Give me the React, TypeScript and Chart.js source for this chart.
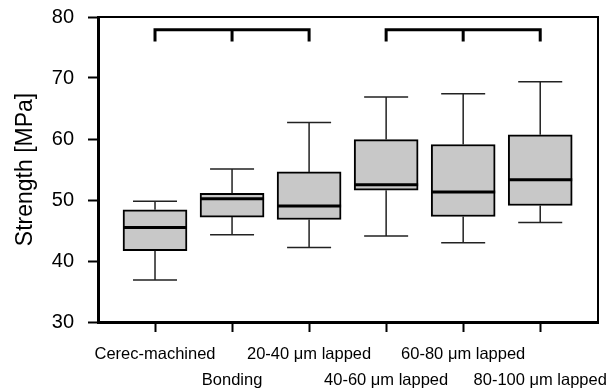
import React, { useEffect, useRef } from "react";
import { Chart, registerables } from "chart.js";

Chart.register(...registerables);

const categories = [
  "Cerec-machined",
  "Bonding",
  "20-40 μm lapped",
  "40-60 μm lapped",
  "60-80 μm lapped",
  "80-100 μm lapped",
];
const whiskerLow = [36.9, 44.3, 42.2, 44.1, 43.0, 46.3];
const q1 = [41.7, 47.2, 46.8, 51.6, 47.3, 49.1];
const median = [45.5, 50.2, 49.0, 52.5, 51.3, 53.3];
const q3 = [48.4, 51.1, 54.6, 59.9, 59.1, 60.7];
const whiskerHigh = [49.8, 55.1, 62.7, 66.9, 67.4, 69.4];

const bracketStart = [1, 4];
const bracketMid = [2, 5];
const bracketEnd = [3, 6];
const bracketTop = 77.9;
const bracketLeg = 76.0;

const yTicks = [30, 40, 50, 60, 70, 80];
const FONT = "'Liberation Sans', Arial, Helvetica, sans-serif";

const boxPlugin = {
  id: "boxExtras",
  afterDatasetsDraw(chart: any) {
    const ctx = chart.ctx;
    const xs = chart.scales.x;
    const ys = chart.scales.y;
    const meta = chart.getDatasetMeta(0);
    const capHalf = 22;
    ctx.save();
    categories.forEach((_, i) => {
      const x = xs.getPixelForValue(i + 1);
      const bar = meta.data[i];
      const half = bar ? bar.width / 2 : 32;
      ctx.strokeStyle = "#222";
      ctx.lineWidth = 1.5;
      ctx.beginPath();
      ctx.moveTo(x, ys.getPixelForValue(q3[i]));
      ctx.lineTo(x, ys.getPixelForValue(whiskerHigh[i]));
      ctx.moveTo(x, ys.getPixelForValue(q1[i]));
      ctx.lineTo(x, ys.getPixelForValue(whiskerLow[i]));
      ctx.moveTo(x - capHalf, ys.getPixelForValue(whiskerHigh[i]));
      ctx.lineTo(x + capHalf, ys.getPixelForValue(whiskerHigh[i]));
      ctx.moveTo(x - capHalf, ys.getPixelForValue(whiskerLow[i]));
      ctx.lineTo(x + capHalf, ys.getPixelForValue(whiskerLow[i]));
      ctx.stroke();
      ctx.strokeStyle = "#000";
      ctx.lineWidth = 3;
      ctx.beginPath();
      ctx.moveTo(x - half, ys.getPixelForValue(median[i]));
      ctx.lineTo(x + half, ys.getPixelForValue(median[i]));
      ctx.stroke();
    });
    ctx.strokeStyle = "#000";
    ctx.lineWidth = 3;
    ctx.lineCap = "butt";
    bracketStart.forEach((s, k) => {
      const x0 = xs.getPixelForValue(s);
      const xm = xs.getPixelForValue(bracketMid[k]);
      const x1 = xs.getPixelForValue(bracketEnd[k]);
      const yt = ys.getPixelForValue(bracketTop);
      const yl = ys.getPixelForValue(bracketLeg);
      ctx.beginPath();
      ctx.moveTo(x0, yl);
      ctx.lineTo(x0, yt);
      ctx.lineTo(x1, yt);
      ctx.lineTo(x1, yl);
      ctx.moveTo(xm, yt);
      ctx.lineTo(xm, yl);
      ctx.stroke();
    });
    const a = chart.chartArea;
    ctx.lineWidth = 2;
    ctx.beginPath();
    ctx.moveTo(a.left, a.top);
    ctx.lineTo(a.right, a.top);
    ctx.lineTo(a.right, a.bottom);
    ctx.stroke();
    ctx.restore();
  },
};

export default function App() {
  const ref = useRef<HTMLCanvasElement>(null);
  useEffect(() => {
    document.body.style.margin = "0";
    const chart = new Chart(ref.current!, {
      type: "bar",
      data: {
        datasets: [
          {
            data: categories.map((_, i) => ({ x: i + 1, y: [q1[i], q3[i]] })) as any,
            backgroundColor: "#c8c8c8",
            borderColor: "#000",
            borderWidth: 2,
            borderSkipped: false,
            barThickness: 64,
          },
        ],
      },
      options: {
        animation: false,
        responsive: false,
        devicePixelRatio: 1,
        layout: { padding: { top: 17, right: 18, left: 0, bottom: 0 } },
        plugins: { legend: { display: false }, tooltip: { enabled: false } },
        scales: {
          x: {
            type: "linear",
            min: 0.26,
            max: 6.75,
            offset: false,
            afterFit: (s: any) => {
              s.height = 67;
              s.paddingLeft = 0;
              s.paddingRight = 0;
            },
            afterBuildTicks: (s: any) => {
              s.ticks = categories.map((_, i) => ({ value: i + 1 }));
            },
            grid: {
              display: true,
              offset: false,
              drawOnChartArea: false,
              drawTicks: true,
              tickLength: 10,
              tickWidth: 2,
              tickColor: "#000",
            },
            border: { display: true, width: 3, color: "#000" },
            ticks: {
              autoSkip: false,
              maxRotation: 0,
              minRotation: 0,
              padding: 10,
              color: "#000",
              font: { family: FONT, size: 16.5, lineHeight: 1.55 },
              callback: (v: any) => {
                const i = Math.round(Number(v)) - 1;
                return i % 2 === 0 ? [categories[i]] : ["", categories[i]];
              },
            },
          },
          y: {
            min: 30,
            max: 80,
            afterFit: (s: any) => {
              s.width = 98;
              s.paddingTop = 0;
              s.paddingBottom = 0;
            },
            afterBuildTicks: (s: any) => {
              s.ticks = yTicks.map((v) => ({ value: v }));
            },
            grid: {
              display: true,
              drawOnChartArea: false,
              drawTicks: true,
              tickLength: 10,
              tickWidth: 2,
              tickColor: "#000",
            },
            border: { display: true, width: 3, color: "#000" },
            ticks: {
              padding: 14,
              color: "#000",
              font: { family: FONT, size: 20 },
            },
            title: {
              display: true,
              text: "Strength [MPa]",
              color: "#000",
              font: { family: FONT, size: 23 },
              padding: { top: 12, bottom: 0 },
            },
          },
        },
      },
      plugins: [boxPlugin],
    });
    return () => chart.destroy();
  }, []);
  return (
    <div style={{ width: 616, height: 389 }}>
      <canvas ref={ref} width={616} height={389} />
    </div>
  );
}
